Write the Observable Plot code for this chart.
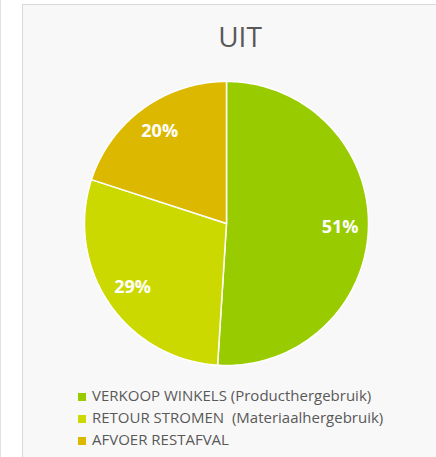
<!DOCTYPE html>
<html>
<head>
<meta charset="utf-8">
<script src="https://cdn.jsdelivr.net/npm/d3@7"></script>
<script src="https://cdn.jsdelivr.net/npm/@observablehq/plot@0.6"></script>
<style>
  html, body { margin: 0; padding: 0; background: #ffffff; }
  body { width: 436px; height: 457px; overflow: hidden; position: relative; font-family: "Open Sans", sans-serif; }
  #edge { position: absolute; left: 0; top: 0; width: 1px; height: 457px; background: #e2e2e2; }
  #panel { position: absolute; left: 22px; top: 4px; width: 470px; height: 500px; background: #f8f8f8; border: 1px solid #d9d9d9; }
  #title { position: absolute; left: 23px; width: 434px; top: 22px; text-align: center; font-size: 28px; line-height: 28px; color: #595959; }
  #chart { position: absolute; left: 0; top: 66px; }
  #legend { position: absolute; left: 78px; top: 384px; font-size: 15px; line-height: 22px; color: #595959; }
  .row { white-space: pre; display: flex; align-items: flex-start; }
  .sw { width: 8px; height: 8px; margin-top: 9px; margin-right: 6px; flex: none; }
</style>
</head>
<body>
<div id="edge"></div>
<div id="panel"></div>
<div id="title"></div>
<div id="chart"></div>
<div id="legend"></div>
<script>
const title = "UIT";
const categories = ["VERKOOP WINKELS (Producthergebruik)", "RETOUR STROMEN  (Materiaalhergebruik)", "AFVOER RESTAFVAL"];
const values = [51, 29, 20];
const labels = ["51%", "29%", "20%"];
const colors = ["#99cc00", "#ccd900", "#ddb800"];

const data = categories.map((c, i) => ({key: c, value: values[i], label: labels[i]}));
const arcs = d3.pie().sort(null).value(d => d.value)(data);

// polygon outline of each slice (center + arc vertices), in unit coordinates
const points = [];
for (const a of arcs) {
  points.push({key: a.data.key, x: 0, y: 0});
  const n = Math.max(2, Math.ceil((a.endAngle - a.startAngle) / (Math.PI / 180)));
  for (let k = 0; k <= n; k++) {
    const t = a.startAngle + (a.endAngle - a.startAngle) * k / n;
    points.push({key: a.data.key, x: Math.sin(t), y: Math.cos(t)});
  }
}
const labelR = 0.8;
const labelPts = arcs.map(a => {
  const m = (a.startAngle + a.endAngle) / 2;
  return {x: labelR * Math.sin(m), y: labelR * Math.cos(m), label: a.data.label};
});

document.getElementById("title").textContent = title;

const chart = Plot.plot({
  width: 436,
  height: 310,
  margin: 0,
  style: {background: "transparent", overflow: "visible"},
  x: {domain: [-1, 1], range: [84, 368], axis: null},
  y: {domain: [-1, 1], range: [299, 15], axis: null},
  color: {domain: categories, range: colors},
  marks: [
    Plot.line(points, {x: "x", y: "y", z: "key", fill: "key", stroke: "white", strokeWidth: 1.5, strokeLinejoin: "round", curve: "linear-closed"}),
    Plot.text(labelPts, {x: "x", y: "y", text: "label", fill: "white", fontSize: 18, fontWeight: "bold", fontFamily: "Open Sans"})
  ]
});
document.getElementById("chart").appendChild(chart);

const legend = document.getElementById("legend");
categories.forEach((c, i) => {
  const row = document.createElement("div");
  row.className = "row";
  const sw = document.createElement("span");
  sw.className = "sw";
  sw.style.background = colors[i];
  const tx = document.createElement("span");
  tx.textContent = c;
  row.appendChild(sw);
  row.appendChild(tx);
  legend.appendChild(row);
});
</script>
</body>
</html>
